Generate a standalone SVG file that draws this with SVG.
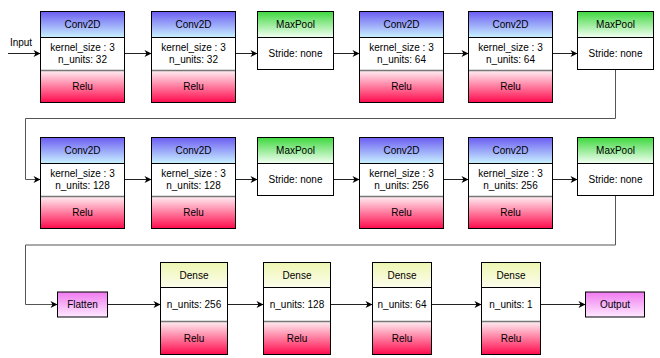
<svg xmlns="http://www.w3.org/2000/svg" width="660" height="358" viewBox="0 0 660 358">
<defs>
<linearGradient id="gConv" x1="0" y1="0" x2="0" y2="1"><stop offset="0" stop-color="#6c5cf2"/><stop offset="1" stop-color="#c8f2ff"/></linearGradient>
<linearGradient id="gPool" x1="0" y1="0" x2="0" y2="1"><stop offset="0" stop-color="#3ed83e"/><stop offset="1" stop-color="#f4fff4"/></linearGradient>
<linearGradient id="gRelu" x1="0" y1="0" x2="0" y2="1"><stop offset="0" stop-color="#ffeef3"/><stop offset="1" stop-color="#ff0a4c"/></linearGradient>
<linearGradient id="gDense" x1="0" y1="0" x2="0" y2="1"><stop offset="0" stop-color="#eef6b2"/><stop offset="1" stop-color="#fdfdec"/></linearGradient>
<linearGradient id="gPink" x1="0" y1="0" x2="0" y2="1"><stop offset="0" stop-color="#f07af0"/><stop offset="1" stop-color="#ffeaff"/></linearGradient>
<marker id="arr" markerUnits="userSpaceOnUse" markerWidth="9" markerHeight="9" refX="8" refY="4.5" orient="auto">
<path d="M1,1 L8,4.5 L1,8 L3,4.5 z" fill="#000"/>
</marker>
<style>
.box{stroke:#000;stroke-width:1}
.sep{stroke:#777;stroke-width:1.5}
.t{font-family:"Liberation Sans",Arial,sans-serif;font-size:10px;fill:#000;text-anchor:middle;dominant-baseline:central}
.c{fill:none;stroke:#222;stroke-width:1}
.loop{fill:none;stroke:#555;stroke-width:1}
</style>
</defs>
<rect width="660" height="358" fill="#fff"/>

<g id="connectors">
<text class="t" x="21" y="42">Input</text>
<line class="c" x1="8" y1="53.5" x2="40.5" y2="53.5" marker-end="url(#arr)"/>
<line class="c" x1="124.5" y1="53.5" x2="151.5" y2="53.5" marker-end="url(#arr)"/>
<line class="c" x1="235.5" y1="53.5" x2="257.5" y2="53.5" marker-end="url(#arr)"/>
<line class="c" x1="333.5" y1="53.5" x2="359.5" y2="53.5" marker-end="url(#arr)"/>
<line class="c" x1="443.5" y1="53.5" x2="468.5" y2="53.5" marker-end="url(#arr)"/>
<line class="c" x1="552.5" y1="53.5" x2="577.5" y2="53.5" marker-end="url(#arr)"/>
<path class="loop" d="M615.5,70 V118.5 H25.5 V179.5 H40.5" marker-end="url(#arr)"/>
<line class="c" x1="124.5" y1="179.5" x2="151.5" y2="179.5" marker-end="url(#arr)"/>
<line class="c" x1="235.5" y1="179.5" x2="257.5" y2="179.5" marker-end="url(#arr)"/>
<line class="c" x1="333.5" y1="179.5" x2="359.5" y2="179.5" marker-end="url(#arr)"/>
<line class="c" x1="443.5" y1="179.5" x2="468.5" y2="179.5" marker-end="url(#arr)"/>
<line class="c" x1="552.5" y1="179.5" x2="577.5" y2="179.5" marker-end="url(#arr)"/>
<path class="loop" d="M615.5,196 V245 H25.5 V304.5 H57.5" marker-end="url(#arr)"/>
<line class="c" x1="107.5" y1="304.5" x2="160.5" y2="304.5" marker-end="url(#arr)"/>
<line class="c" x1="227.5" y1="304.5" x2="263.5" y2="304.5" marker-end="url(#arr)"/>
<line class="c" x1="330.5" y1="304.5" x2="372.5" y2="304.5" marker-end="url(#arr)"/>
<line class="c" x1="431.5" y1="304.5" x2="481.5" y2="304.5" marker-end="url(#arr)"/>
<line class="c" x1="540.5" y1="304.5" x2="585.5" y2="304.5" marker-end="url(#arr)"/>
</g>

<!-- Row 1 -->
<g id="conv1">
<rect class="box" x="40.5" y="11.5" width="84" height="26" fill="url(#gConv)"/>
<rect class="box" x="40.5" y="37.5" width="84" height="33" fill="#fff"/>
<rect class="box" x="40.5" y="70.5" width="84" height="32" fill="url(#gRelu)"/>
<line class="sep" x1="41" y1="70.5" x2="124" y2="70.5"/>
<text class="t" x="82.5" y="24.5">Conv2D</text>
<text class="t" x="82.5" y="47.5">kernel_size : 3</text>
<text class="t" x="82.5" y="59">n_units: 32</text>
<text class="t" x="82.5" y="86.5">Relu</text>
</g>
<g id="conv2">
<rect class="box" x="151.5" y="11.5" width="84" height="26" fill="url(#gConv)"/>
<rect class="box" x="151.5" y="37.5" width="84" height="33" fill="#fff"/>
<rect class="box" x="151.5" y="70.5" width="84" height="32" fill="url(#gRelu)"/>
<line class="sep" x1="152" y1="70.5" x2="235" y2="70.5"/>
<text class="t" x="193.5" y="24.5">Conv2D</text>
<text class="t" x="193.5" y="47.5">kernel_size : 3</text>
<text class="t" x="193.5" y="59">n_units: 32</text>
<text class="t" x="193.5" y="86.5">Relu</text>
</g>
<g id="pool1">
<rect class="box" x="257.5" y="11.5" width="76" height="26" fill="url(#gPool)"/>
<rect class="box" x="257.5" y="37.5" width="76" height="32" fill="#fff"/>
<text class="t" x="295.5" y="24.5">MaxPool</text>
<text class="t" x="295.5" y="53.5">Stride: none</text>
</g>
<g id="conv3">
<rect class="box" x="359.5" y="11.5" width="84" height="26" fill="url(#gConv)"/>
<rect class="box" x="359.5" y="37.5" width="84" height="33" fill="#fff"/>
<rect class="box" x="359.5" y="70.5" width="84" height="32" fill="url(#gRelu)"/>
<line class="sep" x1="360" y1="70.5" x2="443" y2="70.5"/>
<text class="t" x="401.5" y="24.5">Conv2D</text>
<text class="t" x="401.5" y="47.5">kernel_size : 3</text>
<text class="t" x="401.5" y="59">n_units: 64</text>
<text class="t" x="401.5" y="86.5">Relu</text>
</g>
<g id="conv4">
<rect class="box" x="468.5" y="11.5" width="84" height="26" fill="url(#gConv)"/>
<rect class="box" x="468.5" y="37.5" width="84" height="33" fill="#fff"/>
<rect class="box" x="468.5" y="70.5" width="84" height="32" fill="url(#gRelu)"/>
<line class="sep" x1="469" y1="70.5" x2="552" y2="70.5"/>
<text class="t" x="510.5" y="24.5">Conv2D</text>
<text class="t" x="510.5" y="47.5">kernel_size : 3</text>
<text class="t" x="510.5" y="59">n_units: 64</text>
<text class="t" x="510.5" y="86.5">Relu</text>
</g>
<g id="pool2">
<rect class="box" x="577.5" y="11.5" width="76" height="26" fill="url(#gPool)"/>
<rect class="box" x="577.5" y="37.5" width="76" height="32" fill="#fff"/>
<text class="t" x="615.5" y="24.5">MaxPool</text>
<text class="t" x="615.5" y="53.5">Stride: none</text>
</g>

<!-- Row 2 -->
<g id="conv5">
<rect class="box" x="40.5" y="137.5" width="84" height="26" fill="url(#gConv)"/>
<rect class="box" x="40.5" y="163.5" width="84" height="33" fill="#fff"/>
<rect class="box" x="40.5" y="196.5" width="84" height="32" fill="url(#gRelu)"/>
<line class="sep" x1="41" y1="196.5" x2="124" y2="196.5"/>
<text class="t" x="82.5" y="150.5">Conv2D</text>
<text class="t" x="82.5" y="173.5">kernel_size : 3</text>
<text class="t" x="82.5" y="185">n_units: 128</text>
<text class="t" x="82.5" y="212.5">Relu</text>
</g>
<g id="conv6">
<rect class="box" x="151.5" y="137.5" width="84" height="26" fill="url(#gConv)"/>
<rect class="box" x="151.5" y="163.5" width="84" height="33" fill="#fff"/>
<rect class="box" x="151.5" y="196.5" width="84" height="32" fill="url(#gRelu)"/>
<line class="sep" x1="152" y1="196.5" x2="235" y2="196.5"/>
<text class="t" x="193.5" y="150.5">Conv2D</text>
<text class="t" x="193.5" y="173.5">kernel_size : 3</text>
<text class="t" x="193.5" y="185">n_units: 128</text>
<text class="t" x="193.5" y="212.5">Relu</text>
</g>
<g id="pool3">
<rect class="box" x="257.5" y="137.5" width="76" height="26" fill="url(#gPool)"/>
<rect class="box" x="257.5" y="163.5" width="76" height="32" fill="#fff"/>
<text class="t" x="295.5" y="150.5">MaxPool</text>
<text class="t" x="295.5" y="179.5">Stride: none</text>
</g>
<g id="conv7">
<rect class="box" x="359.5" y="137.5" width="84" height="26" fill="url(#gConv)"/>
<rect class="box" x="359.5" y="163.5" width="84" height="33" fill="#fff"/>
<rect class="box" x="359.5" y="196.5" width="84" height="32" fill="url(#gRelu)"/>
<line class="sep" x1="360" y1="196.5" x2="443" y2="196.5"/>
<text class="t" x="401.5" y="150.5">Conv2D</text>
<text class="t" x="401.5" y="173.5">kernel_size : 3</text>
<text class="t" x="401.5" y="185">n_units: 256</text>
<text class="t" x="401.5" y="212.5">Relu</text>
</g>
<g id="conv8">
<rect class="box" x="468.5" y="137.5" width="84" height="26" fill="url(#gConv)"/>
<rect class="box" x="468.5" y="163.5" width="84" height="33" fill="#fff"/>
<rect class="box" x="468.5" y="196.5" width="84" height="32" fill="url(#gRelu)"/>
<line class="sep" x1="469" y1="196.5" x2="552" y2="196.5"/>
<text class="t" x="510.5" y="150.5">Conv2D</text>
<text class="t" x="510.5" y="173.5">kernel_size : 3</text>
<text class="t" x="510.5" y="185">n_units: 256</text>
<text class="t" x="510.5" y="212.5">Relu</text>
</g>
<g id="pool4">
<rect class="box" x="577.5" y="137.5" width="76" height="26" fill="url(#gPool)"/>
<rect class="box" x="577.5" y="163.5" width="76" height="32" fill="#fff"/>
<text class="t" x="615.5" y="150.5">MaxPool</text>
<text class="t" x="615.5" y="179.5">Stride: none</text>
</g>

<!-- Row 3 -->
<g id="flatten">
<rect class="box" x="57.5" y="292" width="50" height="25" fill="url(#gPink)"/>
<text class="t" x="82.5" y="304.5">Flatten</text>
</g>
<g id="dense1">
<rect class="box" x="160.5" y="262.5" width="67" height="25" fill="url(#gDense)"/>
<rect class="box" x="160.5" y="287.5" width="67" height="34" fill="#fff"/>
<rect class="box" x="160.5" y="321.5" width="67" height="33" fill="url(#gRelu)"/>
<line class="sep" x1="161" y1="321.5" x2="227" y2="321.5"/>
<text class="t" x="194" y="275">Dense</text>
<text class="t" x="194" y="304.5">n_units: 256</text>
<text class="t" x="194" y="338">Relu</text>
</g>
<g id="dense2">
<rect class="box" x="263.5" y="262.5" width="67" height="25" fill="url(#gDense)"/>
<rect class="box" x="263.5" y="287.5" width="67" height="34" fill="#fff"/>
<rect class="box" x="263.5" y="321.5" width="67" height="33" fill="url(#gRelu)"/>
<line class="sep" x1="264" y1="321.5" x2="330" y2="321.5"/>
<text class="t" x="297" y="275">Dense</text>
<text class="t" x="297" y="304.5">n_units: 128</text>
<text class="t" x="297" y="338">Relu</text>
</g>
<g id="dense3">
<rect class="box" x="372.5" y="262.5" width="59" height="25" fill="url(#gDense)"/>
<rect class="box" x="372.5" y="287.5" width="59" height="34" fill="#fff"/>
<rect class="box" x="372.5" y="321.5" width="59" height="33" fill="url(#gRelu)"/>
<line class="sep" x1="373" y1="321.5" x2="431" y2="321.5"/>
<text class="t" x="402" y="275">Dense</text>
<text class="t" x="402" y="304.5">n_units: 64</text>
<text class="t" x="402" y="338">Relu</text>
</g>
<g id="dense4">
<rect class="box" x="481.5" y="262.5" width="59" height="25" fill="url(#gDense)"/>
<rect class="box" x="481.5" y="287.5" width="59" height="34" fill="#fff"/>
<rect class="box" x="481.5" y="321.5" width="59" height="33" fill="url(#gRelu)"/>
<line class="sep" x1="482" y1="321.5" x2="540" y2="321.5"/>
<text class="t" x="511" y="275">Dense</text>
<text class="t" x="511" y="304.5">n_units: 1</text>
<text class="t" x="511" y="338">Relu</text>
</g>
<g id="output">
<rect class="box" x="585.5" y="292" width="59" height="25" fill="url(#gPink)"/>
<text class="t" x="615" y="304.5">Output</text>
</g>
</svg>
